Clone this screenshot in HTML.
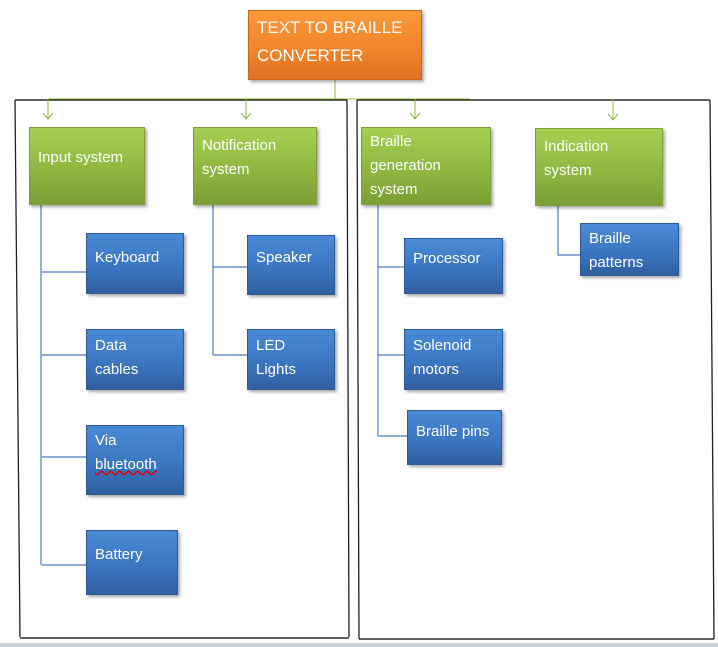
<!DOCTYPE html>
<html><head><meta charset="utf-8"><style>
body{margin:0;width:718px;height:647px;background:#fff;position:relative;overflow:hidden;font-family:"Liberation Sans",sans-serif}
.b{position:absolute;box-sizing:border-box;color:#fff;font-size:15px;line-height:24px;padding:6px 8px;box-shadow:2px 2px 3px rgba(0,0,0,.35)}
.g{background:linear-gradient(#a6d052,#8db53f 60%,#7a9f35);border:1px solid #7e9f3c}
.u{background:linear-gradient(#4a8ad6,#3a74bf 60%,#305f9f);border:1px solid #2f5b95}
.o{background:linear-gradient(#fb9a3a,#f0832a 60%,#de7222);border:1px solid #c8661d;font-size:17px;line-height:28px}
svg{position:absolute;left:0;top:0}
</style></head><body>
<svg width="718" height="647">
<line x1="15" y1="100" x2="347" y2="100" stroke="#000" stroke-width="1.3"/>
<line x1="15" y1="100" x2="20" y2="637" stroke="#222" stroke-width="1.3"/>
<line x1="347" y1="100" x2="349" y2="637" stroke="#222" stroke-width="1.3"/>
<line x1="20" y1="638" x2="349" y2="638" stroke="#000" stroke-width="1.3"/>
<line x1="357" y1="100" x2="710" y2="100" stroke="#000" stroke-width="1.3"/>
<line x1="357" y1="100" x2="359" y2="639" stroke="#222" stroke-width="1.3"/>
<line x1="710" y1="100" x2="714" y2="639" stroke="#222" stroke-width="1.3"/>
<line x1="359" y1="639" x2="714" y2="639" stroke="#000" stroke-width="1.3"/>
<rect x="0" y="643" width="718" height="4" fill="#c8d0da"/>
<g stroke="#8db53f" stroke-width="1" fill="none">
<path d="M335 80V99M48 99H470M48 99V119M246 99V119M415 99V119M613 99V120"/>
<path d="M43 113L48 119L53 113M241 113L246 119L251 113M410 113L415 119L420 113M608 114L613 120L618 114"/>
</g>
<g stroke="#4a7ec0" stroke-width="1.2" fill="none">
<path d="M41 205V565M42 272H86M42 355H86M42 457H86M42 565H86"/>
<path d="M213 205V355M213 267H247M213 355H247"/>
<path d="M378 205V436M378 267H404M378 355H404M378 436H407"/>
<path d="M558 206V255H580"/>
</g>
</svg>
<div class="b o" style="left:248px;top:10px;width:174px;height:70px;padding:3px 8px">TEXT TO BRAILLE<br>CONVERTER</div>
<div class="b g" style="left:29px;top:127px;width:116px;height:78px;padding-top:18px">Input system</div>
<div class="b g" style="left:193px;top:127px;width:124px;height:78px;padding-top:6px">Notification<br>system</div>
<div class="b g" style="left:361px;top:127px;width:130px;height:78px;padding-top:2px">Braille<br>generation<br>system</div>
<div class="b g" style="left:535px;top:128px;width:128px;height:78px;padding-top:6px">Indication<br>system</div>
<div class="b u" style="left:86px;top:233px;width:98px;height:61px;padding-top:12px">Keyboard</div>
<div class="b u" style="left:86px;top:329px;width:98px;height:61px;padding-top:4px">Data<br>cables</div>
<div class="b u" style="left:86px;top:425px;width:98px;height:70px;padding-top:3px">Via<br><span style="text-decoration:underline wavy #d00">bluetooth</span></div>
<div class="b u" style="left:86px;top:530px;width:92px;height:65px;padding-top:12px">Battery</div>
<div class="b u" style="left:247px;top:235px;width:88px;height:60px;padding-top:10px">Speaker</div>
<div class="b u" style="left:247px;top:329px;width:88px;height:61px;padding-top:4px">LED<br>Lights</div>
<div class="b u" style="left:404px;top:238px;width:99px;height:56px;padding-top:8px">Processor</div>
<div class="b u" style="left:404px;top:329px;width:99px;height:61px;padding-top:4px">Solenoid<br>motors</div>
<div class="b u" style="left:407px;top:410px;width:95px;height:55px;padding-top:9px">Braille pins</div>
<div class="b u" style="left:580px;top:223px;width:99px;height:53px;padding-top:3px">Braille<br>patterns</div>
</body></html>
